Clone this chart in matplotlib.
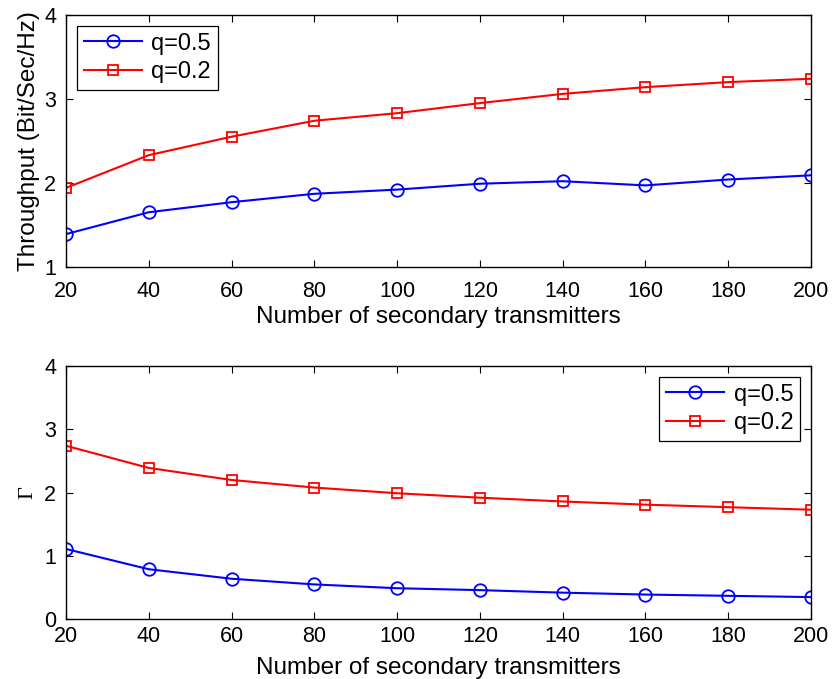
import numpy as np
import matplotlib.pyplot as plt

plt.rcParams['font.family'] = ['Liberation Sans', 'DejaVu Sans']

n_tx = [20, 40, 60, 80, 100, 120, 140, 160, 180, 200]

thr_q05 = [1.39, 1.65, 1.77, 1.87, 1.92, 1.99, 2.02, 1.97, 2.04, 2.09]
thr_q02 = [1.94, 2.33, 2.55, 2.74, 2.83, 2.95, 3.06, 3.14, 3.20, 3.24]

gam_q05 = [1.11, 0.79, 0.64, 0.55, 0.49, 0.46, 0.42, 0.39, 0.37, 0.35]
gam_q02 = [2.74, 2.39, 2.20, 2.08, 1.99, 1.92, 1.86, 1.81, 1.77, 1.73]

fs = 15.5        # tick labels
fs_lab = 17.5    # axis labels
fs_leg = 17


def style_axes(ax, yticks, xpad, labpad):
    ax.set_xlim(20, 200)
    ax.set_xticks(n_tx)
    ax.set_ylim(yticks[0], yticks[-1])
    ax.set_yticks(yticks)
    ax.tick_params(direction='in', top=True, right=True, labelsize=fs,
                   length=5, width=0.8)
    ax.tick_params(axis='x', pad=xpad)
    ax.tick_params(axis='y', pad=7)
    for s in ax.spines.values():
        s.set_linewidth(1.0)
    ax.set_xlabel('Number of secondary transmitters', fontsize=fs_lab,
                  labelpad=labpad)


def draw(ax, y_blue, y_red, loc):
    ax.plot(n_tx, y_blue, color='blue', marker='o', markersize=9,
            markerfacecolor='none', markeredgewidth=1.3, linewidth=1.5,
            label='q=0.5')
    ax.plot(n_tx, y_red, color='red', marker='s', markersize=7.5,
            markerfacecolor='none', markeredgewidth=1.3, linewidth=1.5,
            label='q=0.2')
    leg = ax.legend(loc=loc, fontsize=fs_leg, fancybox=False, framealpha=1,
                    edgecolor='black', handlelength=2.45, borderpad=0.3,
                    labelspacing=0.27, handletextpad=0.4, borderaxespad=0.45)
    leg.get_frame().set_linewidth(0.9)


fig = plt.figure(figsize=(8.33, 6.79), dpi=100)

ax1 = fig.add_axes([0.0792, 0.607, 0.8944, 0.371])
draw(ax1, thr_q05, thr_q02, 'upper left')
style_axes(ax1, [1, 2, 3, 4], xpad=10, labpad=3)
ax1.set_ylabel('Throughput (Bit/Sec/Hz)', fontsize=fs_lab, labelpad=3)

ax2 = fig.add_axes([0.0792, 0.088, 0.8944, 0.373])
draw(ax2, gam_q05, gam_q02, 'upper right')
style_axes(ax2, [0, 1, 2, 3, 4], xpad=5, labpad=7)
ax2.set_ylabel('Γ', fontsize=16, family=['Liberation Serif', 'DejaVu Serif'],
               labelpad=5)

fig.savefig('out.png', dpi=100)
